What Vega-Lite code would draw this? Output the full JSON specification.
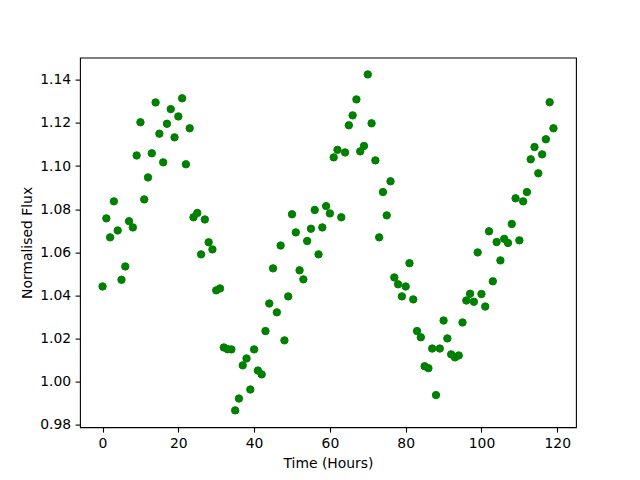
{
  "$schema": "https://vega.github.io/schema/vega-lite/v6.json",
  "width": 496,
  "height": 369.6,
  "autosize": {"type": "none"},
  "padding": {"left": 80, "top": 57.6, "right": 64, "bottom": 52.8},
  "background": "white",
  "config": {
    "font": "DejaVu Sans",
    "view": {"stroke": "black", "strokeWidth": 1.1},
    "axis": {
      "domain": false,
      "grid": false,
      "ticks": true,
      "tickColor": "black",
      "tickSize": 4.9,
      "tickWidth": 1.1,
      "labelFont": "DejaVu Sans",
      "labelFontSize": 13.9,
      "labelColor": "black",
      "labelPadding": 4.5,
      "titleFont": "DejaVu Sans",
      "titleFontSize": 13.9,
      "titleFontWeight": "normal",
      "titleColor": "black",
      "titlePadding": 5.6
    }
  },
  "data": {
    "values": [
      {"t": 0, "f": 1.0441}, {"t": 1, "f": 1.0757}, {"t": 2, "f": 1.0669}, {"t": 3, "f": 1.0836},
      {"t": 4, "f": 1.0701}, {"t": 5, "f": 1.0472}, {"t": 6, "f": 1.0534}, {"t": 7, "f": 1.0744},
      {"t": 8, "f": 1.0715}, {"t": 9, "f": 1.1049}, {"t": 10, "f": 1.1203}, {"t": 11, "f": 1.0845},
      {"t": 12, "f": 1.0947}, {"t": 13, "f": 1.1059}, {"t": 14, "f": 1.1295}, {"t": 15, "f": 1.115},
      {"t": 16, "f": 1.1017}, {"t": 17, "f": 1.1196}, {"t": 18, "f": 1.1264}, {"t": 19, "f": 1.1133},
      {"t": 20, "f": 1.123}, {"t": 21, "f": 1.1314}, {"t": 22, "f": 1.1008}, {"t": 23, "f": 1.1175},
      {"t": 24, "f": 1.0762}, {"t": 25, "f": 1.0782}, {"t": 26, "f": 1.059}, {"t": 27, "f": 1.0752},
      {"t": 28, "f": 1.0646}, {"t": 29, "f": 1.0613}, {"t": 30, "f": 1.0423}, {"t": 31, "f": 1.0432},
      {"t": 32, "f": 1.0158}, {"t": 33, "f": 1.015}, {"t": 34, "f": 1.0149}, {"t": 35, "f": 0.9866},
      {"t": 36, "f": 0.9921}, {"t": 37, "f": 1.0075}, {"t": 38, "f": 1.0107}, {"t": 39, "f": 0.9963},
      {"t": 40, "f": 1.0149}, {"t": 41, "f": 1.0051}, {"t": 42, "f": 1.0033}, {"t": 43, "f": 1.0234},
      {"t": 44, "f": 1.0362}, {"t": 45, "f": 1.0525}, {"t": 46, "f": 1.0321}, {"t": 47, "f": 1.0631},
      {"t": 48, "f": 1.0191}, {"t": 49, "f": 1.0395}, {"t": 50, "f": 1.0776}, {"t": 51, "f": 1.0692},
      {"t": 52, "f": 1.0516}, {"t": 53, "f": 1.0474}, {"t": 54, "f": 1.0652}, {"t": 55, "f": 1.0709},
      {"t": 56, "f": 1.0796}, {"t": 57, "f": 1.059}, {"t": 58, "f": 1.0715}, {"t": 59, "f": 1.0814},
      {"t": 60, "f": 1.078}, {"t": 61, "f": 1.104}, {"t": 62, "f": 1.1075}, {"t": 63, "f": 1.0762},
      {"t": 64, "f": 1.1063}, {"t": 65, "f": 1.1189}, {"t": 66, "f": 1.1235}, {"t": 67, "f": 1.1309},
      {"t": 68, "f": 1.1068}, {"t": 69, "f": 1.1093}, {"t": 70, "f": 1.1425}, {"t": 71, "f": 1.1198},
      {"t": 72, "f": 1.1026}, {"t": 73, "f": 1.0669}, {"t": 74, "f": 1.0879}, {"t": 75, "f": 1.0771},
      {"t": 76, "f": 1.0929}, {"t": 77, "f": 1.0483}, {"t": 78, "f": 1.0451}, {"t": 79, "f": 1.0395},
      {"t": 80, "f": 1.0441}, {"t": 81, "f": 1.0549}, {"t": 82, "f": 1.0381}, {"t": 83, "f": 1.0234},
      {"t": 84, "f": 1.0205}, {"t": 85, "f": 1.0071}, {"t": 86, "f": 1.0062}, {"t": 87, "f": 1.0153},
      {"t": 88, "f": 0.9937}, {"t": 89, "f": 1.0153}, {"t": 90, "f": 1.0283}, {"t": 91, "f": 1.02},
      {"t": 92, "f": 1.0126}, {"t": 93, "f": 1.0112}, {"t": 94, "f": 1.0121}, {"t": 95, "f": 1.0274},
      {"t": 96, "f": 1.0376}, {"t": 97, "f": 1.0407}, {"t": 98, "f": 1.037}, {"t": 99, "f": 1.0599},
      {"t": 100, "f": 1.0406}, {"t": 101, "f": 1.0348}, {"t": 102, "f": 1.0697}, {"t": 103, "f": 1.0465},
      {"t": 104, "f": 1.0647}, {"t": 105, "f": 1.0562}, {"t": 106, "f": 1.0662}, {"t": 107, "f": 1.0643},
      {"t": 108, "f": 1.0731}, {"t": 109, "f": 1.085}, {"t": 110, "f": 1.0655}, {"t": 111, "f": 1.0836},
      {"t": 112, "f": 1.0879}, {"t": 113, "f": 1.1031}, {"t": 114, "f": 1.1088}, {"t": 115, "f": 1.0966},
      {"t": 116, "f": 1.1054}, {"t": 117, "f": 1.1124}, {"t": 118, "f": 1.1296}, {"t": 119, "f": 1.1175}
    ]
  },
  "mark": {"type": "circle", "color": "#008000", "size": 55, "opacity": 1, "stroke": "#008000", "strokeWidth": 1},
  "encoding": {
    "x": {
      "field": "t",
      "type": "quantitative",
      "scale": {"domain": [-5.95, 124.95], "nice": false, "zero": false},
      "axis": {"values": [0, 20, 40, 60, 80, 100, 120], "title": "Time (Hours)"}
    },
    "y": {
      "field": "f",
      "type": "quantitative",
      "scale": {"domain": [0.9788, 1.1503], "nice": false, "zero": false},
      "axis": {
        "values": [0.98, 1.0, 1.02, 1.04, 1.06, 1.08, 1.1, 1.12, 1.14],
        "format": ".2f",
        "title": "Normalised Flux"
      }
    }
  }
}
